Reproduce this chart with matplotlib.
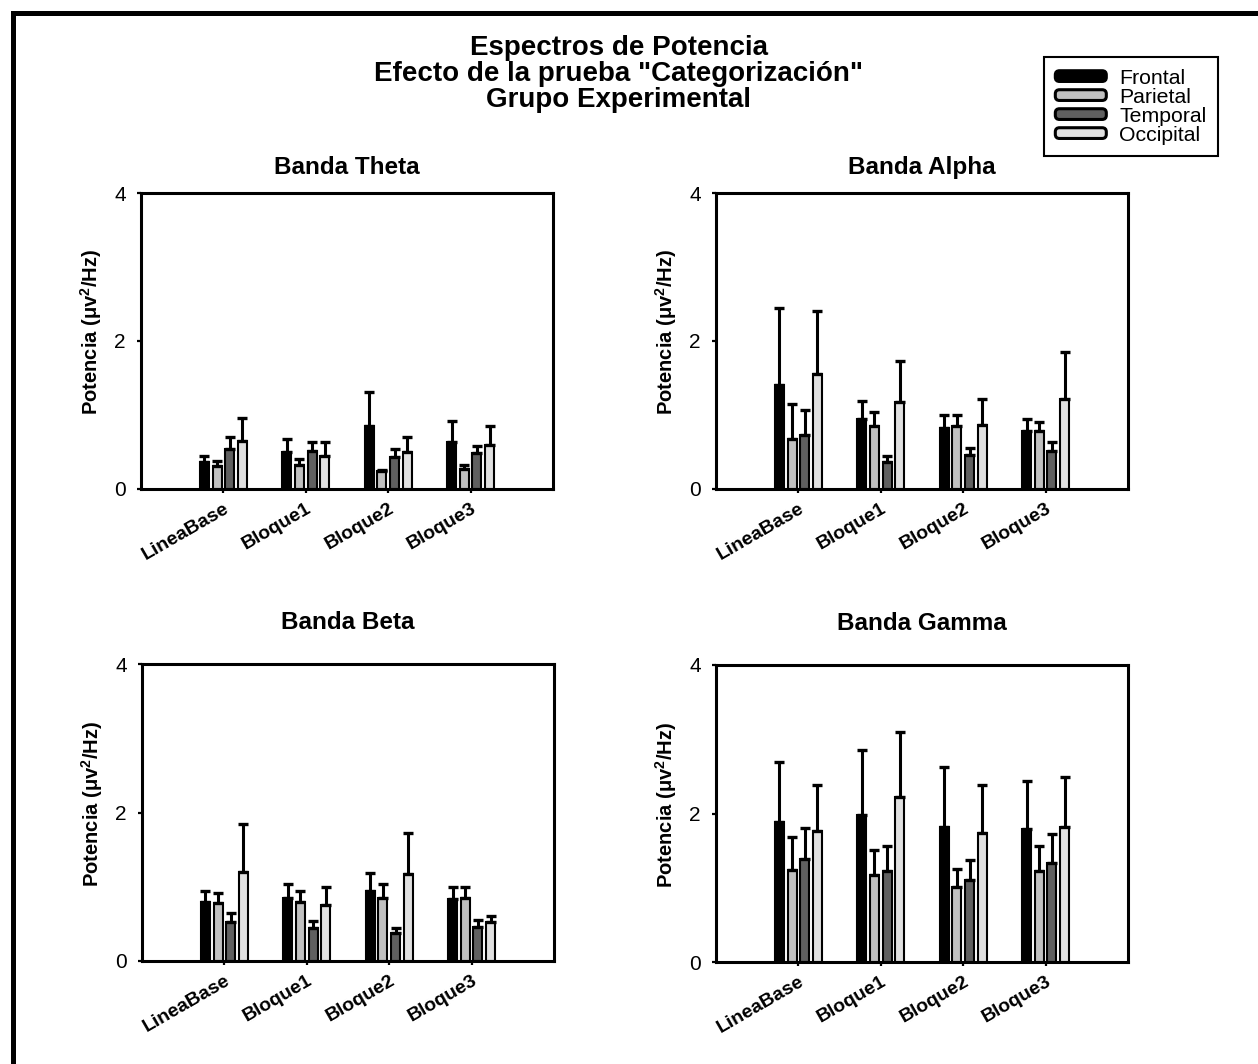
import matplotlib.pyplot as plt
import numpy as np
from matplotlib.legend_handler import HandlerPatch
from matplotlib.patches import FancyBboxPatch, Patch, Rectangle

plt.rcParams["font.family"] = ["Liberation Sans", "DejaVu Sans"]
plt.rcParams["mathtext.fontset"] = "custom"
plt.rcParams["mathtext.rm"] = "Liberation Sans"
plt.rcParams["mathtext.bf"] = "Liberation Sans:bold"

# ------------------------------------------------------------------ #
#  data (rows: Frontal, Parietal, Temporal, Occipital)
# ------------------------------------------------------------------ #
blocks = ["LineaBase", "Bloque1", "Bloque2", "Bloque3"]
regions = ["Frontal", "Parietal", "Temporal", "Occipital"]
region_colors = ["#000000", "#c0c0c0", "#606060", "#e0e0e0"]

theta_mean = [
    [0.36, 0.50, 0.85, 0.64],
    [0.31, 0.32, 0.24, 0.27],
    [0.54, 0.51, 0.43, 0.48],
    [0.65, 0.44, 0.50, 0.59],
]
theta_err = [
    [0.09, 0.18, 0.46, 0.28],
    [0.07, 0.08, 0.02, 0.06],
    [0.16, 0.12, 0.11, 0.10],
    [0.31, 0.19, 0.20, 0.26],
]

alpha_mean = [
    [1.41, 0.95, 0.82, 0.79],
    [0.68, 0.85, 0.85, 0.78],
    [0.73, 0.37, 0.46, 0.52],
    [1.55, 1.17, 0.86, 1.21],
]
alpha_err = [
    [1.04, 0.24, 0.18, 0.16],
    [0.47, 0.19, 0.15, 0.13],
    [0.34, 0.07, 0.09, 0.12],
    [0.86, 0.56, 0.36, 0.64],
]

beta_mean = [
    [0.80, 0.85, 0.94, 0.83],
    [0.78, 0.79, 0.85, 0.85],
    [0.52, 0.44, 0.38, 0.46],
    [1.20, 0.75, 1.17, 0.53],
]
beta_err = [
    [0.14, 0.19, 0.24, 0.17],
    [0.13, 0.15, 0.19, 0.15],
    [0.13, 0.10, 0.06, 0.09],
    [0.64, 0.25, 0.56, 0.08],
]

gamma_mean = [
    [1.88, 1.98, 1.82, 1.79],
    [1.24, 1.17, 1.01, 1.22],
    [1.39, 1.23, 1.10, 1.34],
    [1.76, 2.22, 1.74, 1.82],
]
gamma_err = [
    [0.81, 0.87, 0.80, 0.65],
    [0.44, 0.34, 0.24, 0.34],
    [0.42, 0.33, 0.28, 0.39],
    [0.63, 0.88, 0.65, 0.67],
]


def draw_band(ax, title, means, errs, title_pad):
    """Grouped bars with upper-only error bars for one band."""
    x = np.arange(1, len(blocks) + 1)
    for i, (m, e) in enumerate(zip(means, errs)):
        pos = x + (i - 1.5) * 0.154
        ax.bar(pos, m, width=0.108, color=region_colors[i],
               edgecolor="black", linewidth=1.5, zorder=2)
        ax.errorbar(pos, m, yerr=[np.zeros(len(m)), e], fmt="none",
                    ecolor="black", elinewidth=2.2, capsize=3.6,
                    capthick=2.4, zorder=3)

    ax.set_xlim(0, 5)
    ax.set_ylim(0, 4)
    ax.set_yticks([0, 2, 4])
    ax.set_xticks(x)
    ax.set_xticklabels(blocks, rotation=30, ha="right", va="top",
                       rotation_mode="anchor", fontweight="bold", fontsize=14)
    for sp in ax.spines.values():
        sp.set_linewidth(2.2)
    ax.tick_params(direction="out", length=3, width=1.6)
    ax.tick_params(axis="y", labelsize=15, pad=8)
    ax.tick_params(axis="x", pad=5)
    ax.set_ylabel(r"Potencia (μv$^{\mathbf{2}}$/Hz)", fontweight="bold",
                  fontsize=14.5)
    ax.yaxis.set_label_coords(-0.09, 0.53)
    ax.set_title(title, fontweight="bold", fontsize=17.5, pad=title_pad)


def round_handle(legend, orig_handle, xdescent, ydescent, width, height,
                 fontsize):
    return FancyBboxPatch((-xdescent, -ydescent), width, height,
                          boxstyle="round,pad=0,rounding_size=3")


# ------------------------------------------------------------------ #
#  figure
# ------------------------------------------------------------------ #
W, H = 1258, 1064
fig = plt.figure(figsize=(W / 100, H / 100), dpi=100)


def px_axes(left, top, right, bottom):
    return fig.add_axes([left / W, 1 - bottom / H,
                         (right - left) / W, (bottom - top) / H])


ax_theta = px_axes(141, 193, 553, 489)
ax_alpha = px_axes(716, 193, 1128, 489)
ax_beta = px_axes(142, 664, 554, 961)
ax_gamma = px_axes(716, 665, 1128, 962)

draw_band(ax_theta, "Banda Theta", theta_mean, theta_err, 14)
draw_band(ax_alpha, "Banda Alpha", alpha_mean, alpha_err, 14)
draw_band(ax_beta, "Banda Beta", beta_mean, beta_err, 25)
draw_band(ax_gamma, "Banda Gamma", gamma_mean, gamma_err, 25)

fig.text(619 / W, 1 - 74 / H,
         'Espectros de Potencia\nEfecto de la prueba "Categorización"\n'
         "Grupo Experimental",
         ha="center", va="center", fontsize=20, fontweight="bold",
         linespacing=0.98)

handles = [Patch(facecolor=c, edgecolor="black", linewidth=2.2)
           for c in region_colors]
leg = fig.legend(handles, regions, loc="upper right",
                 bbox_to_anchor=(1218 / W, 1 - 57 / H), fontsize=15.3,
                 frameon=True, fancybox=False, edgecolor="black",
                 framealpha=1, labelspacing=0.0, handlelength=2.4,
                 handleheight=0.4, handletextpad=0.6, borderpad=0.55,
                 borderaxespad=0,
                 handler_map={Patch: HandlerPatch(patch_func=round_handle)})
leg.get_frame().set_linewidth(1.5)

# outer frame (only top and left edges visible)
fig.add_artist(Rectangle((12.5 / W, -0.2), 1.5, 0.2 + 1 - 12.5 / H,
                         transform=fig.transFigure, fill=False,
                         edgecolor="black", linewidth=3.6))

fig.savefig("out.png", dpi=100)
